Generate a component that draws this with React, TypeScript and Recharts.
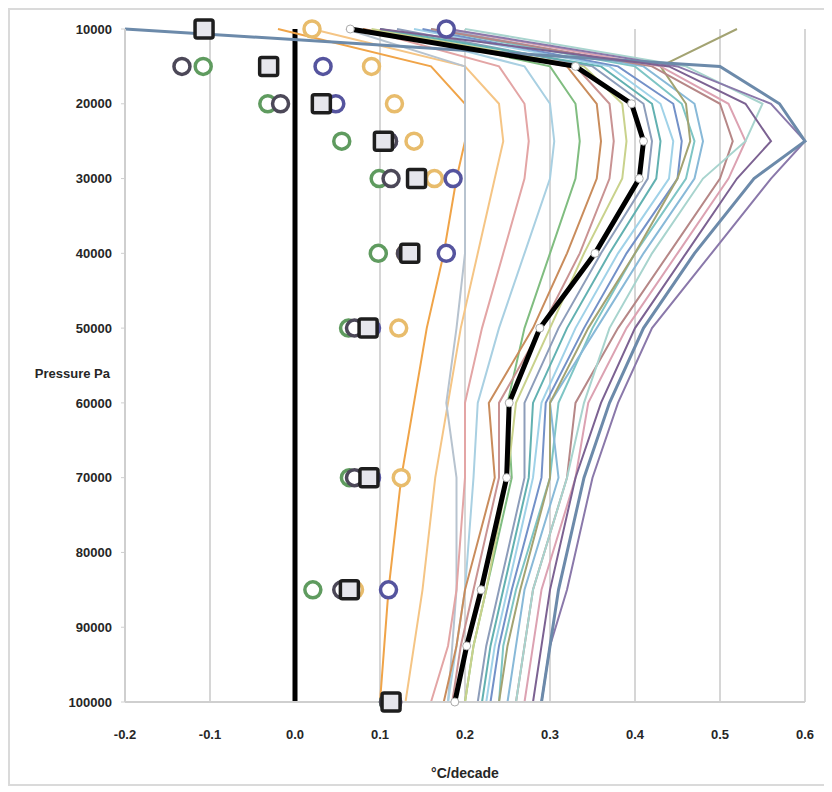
import React from 'react';
import { LineChart, Line, XAxis, YAxis, CartesianGrid, ReferenceLine, Label } from 'recharts';

// pressure levels (Pa), top of the atmosphere first
const levels = [10000, 15000, 20000, 25000, 30000, 40000, 50000, 60000, 70000, 85000, 92500, 100000];

const xTicks = [-0.2, -0.1, 0.0, 0.1, 0.2, 0.3, 0.4, 0.5, 0.6];
const yTicks = [10000, 20000, 30000, 40000, 50000, 60000, 70000, 80000, 90000, 100000];

// model runs, °C/decade at each level
const m01 = [-0.02, 0.16, 0.2, 0.2, 0.19, 0.175, 0.155, 0.14, 0.125, 0.11, 0.105, 0.1];
const m02 = [0.02, 0.2, 0.24, 0.245, 0.235, 0.215, 0.195, 0.18, 0.165, 0.15, 0.14, 0.13];
const m03 = [0.06, 0.2, 0.2, 0.2, 0.2, 0.2, 0.19, 0.178, 0.19, 0.19, 0.185, 0.18];
const m04 = [0.08, 0.24, 0.27, 0.275, 0.27, 0.245, 0.22, 0.2, 0.2, 0.19, 0.18, 0.16];
const m05 = [0.1, 0.27, 0.3, 0.305, 0.3, 0.27, 0.24, 0.215, 0.21, 0.2, 0.19, 0.18];
const m06 = [0.1, 0.3, 0.33, 0.335, 0.33, 0.3, 0.27, 0.25, 0.255, 0.225, 0.21, 0.2];
const m07 = [0.08, 0.32, 0.355, 0.36, 0.355, 0.32, 0.28, 0.228, 0.235, 0.2, 0.19, 0.175];
const m08 = [0.06, 0.33, 0.37, 0.375, 0.37, 0.335, 0.29, 0.24, 0.24, 0.21, 0.195, 0.185];
const m09 = [0.09, 0.34, 0.385, 0.39, 0.385, 0.34, 0.3, 0.26, 0.25, 0.225, 0.21, 0.2];
const m10 = [0.12, 0.35, 0.41, 0.42, 0.415, 0.36, 0.31, 0.27, 0.27, 0.24, 0.225, 0.215];
const m11 = [0.1, 0.36, 0.42, 0.43, 0.425, 0.37, 0.32, 0.28, 0.275, 0.245, 0.23, 0.22];
const m12 = [0.14, 0.37, 0.43, 0.445, 0.44, 0.38, 0.33, 0.29, 0.28, 0.25, 0.235, 0.225];
const m13 = [0.15, 0.38, 0.445, 0.455, 0.45, 0.39, 0.34, 0.295, 0.29, 0.255, 0.24, 0.23];
const m14 = [0.16, 0.4, 0.455, 0.47, 0.46, 0.4, 0.35, 0.31, 0.3, 0.26, 0.245, 0.24];
const m15 = [0.17, 0.41, 0.47, 0.48, 0.47, 0.41, 0.355, 0.3, 0.31, 0.27, 0.26, 0.25];
const m16 = [0.52, 0.43, 0.46, 0.465, 0.45, 0.4, 0.345, 0.3, 0.3, 0.265, 0.25, 0.24];
const m17 = [0.16, 0.42, 0.5, 0.515, 0.5, 0.44, 0.38, 0.33, 0.32, 0.28, 0.27, 0.26];
const m18 = [0.18, 0.43, 0.51, 0.53, 0.51, 0.45, 0.39, 0.345, 0.33, 0.29, 0.28, 0.27];
const m19 = [0.2, 0.46, 0.55, 0.53, 0.48, 0.42, 0.37, 0.34, 0.32, 0.28, 0.27, 0.26];
const m20 = [0.18, 0.45, 0.56, 0.6, 0.56, 0.49, 0.42, 0.38, 0.35, 0.32, 0.3, 0.29];
const m21 = [-0.2, 0.5, 0.57, 0.6, 0.54, 0.47, 0.41, 0.37, 0.34, 0.31, 0.3, 0.29];
const m22 = [0.1, 0.44, 0.53, 0.56, 0.52, 0.46, 0.4, 0.36, 0.33, 0.3, 0.29, 0.28];

// model average
const modelMean = [0.065, 0.33, 0.396, 0.41, 0.405, 0.353, 0.288, 0.252, 0.249, 0.219, 0.202, 0.188];

// balloon datasets and their average (null = not plotted)
const obsDark = [null, -0.133, -0.017, 0.11, 0.113, 0.13, 0.07, null, 0.07, 0.055, null, 0.11];
const obsGreen = [null, -0.108, -0.032, 0.055, 0.099, 0.098, 0.063, null, 0.064, 0.021, null, 0.11];
const obsBlue = [0.178, 0.033, 0.048, 0.11, 0.186, 0.178, 0.09, null, 0.09, 0.11, null, 0.115];
const obsOrange = [0.02, 0.09, 0.117, 0.14, 0.164, 0.13, 0.122, null, 0.125, 0.07, null, 0.115];
const obsMean = [-0.107, -0.031, 0.031, 0.104, 0.143, 0.135, 0.086, null, 0.087, 0.064, null, 0.113];

const models = { m01, m02, m03, m04, m05, m06, m07, m08, m09, m10, m11, m12, m13, m14, m15, m16, m17, m18, m19, m20, m21, m22 };

const modelColors: Record<string, string> = {
  m01: '#f0a448', m02: '#f5c585', m03: '#b7c3cf', m04: '#e3a5a5', m05: '#a9d0e2',
  m06: '#80bd80', m07: '#c98c5c', m08: '#c99393', m09: '#c9d28c', m10: '#8d9dba',
  m11: '#62b1b1', m12: '#a0d2e8', m13: '#7391c8', m14: '#7ec5c5', m15: '#88b9d8',
  m16: '#a3a372', m17: '#b68787', m18: '#dca2b2', m19: '#a8d4ce', m20: '#8a78aa',
  m21: '#6c8aaa', m22: '#7c6292',
};

const rows = levels.map((p, i) => {
  const row: Record<string, number | null> = { p };
  Object.entries(models).forEach(([k, v]) => { row[k] = v[i]; });
  row.modelMean = modelMean[i];
  row.obsDark = obsDark[i];
  row.obsGreen = obsGreen[i];
  row.obsBlue = obsBlue[i];
  row.obsOrange = obsOrange[i];
  row.obsMean = obsMean[i];
  return row;
});

const font = "'Liberation Sans', Arial, sans-serif";
const tickStyle = { fill: '#262626', fontSize: 13, fontWeight: 700, fontFamily: font };

const ring = (color: string) => (props: any) => {
  const { cx, cy, index } = props;
  if (cx == null || cy == null || isNaN(cx)) return <g key={`r${color}${index}`} />;
  return <circle key={`r${color}${index}`} cx={cx} cy={cy} r={8} fill="#fff" stroke={color} strokeWidth={3.5} />;
};

const SquareDot = (props: any) => {
  const { cx, cy, index } = props;
  if (cx == null || cy == null || isNaN(cx)) return <g key={`s${index}`} />;
  return (
    <rect key={`s${index}`} x={cx - 9} y={cy - 9} width={18} height={18} rx={2}
      fill="#e6e6ec" stroke="#1e1e1e" strokeWidth={3.5} />
  );
};

const MeanDot = (props: any) => {
  const { cx, cy, index } = props;
  if (cx == null || cy == null || isNaN(cx)) return <g key={`m${index}`} />;
  return <circle key={`m${index}`} cx={cx} cy={cy} r={4} fill="#fff" stroke="#aaa" strokeWidth={1} />;
};

const PressureLabel = (props: any) => {
  const { viewBox } = props;
  if (!viewBox) return null;
  return (
    <text x={viewBox.x + viewBox.width - 15} y={viewBox.y + viewBox.height / 2 + 12}
      textAnchor="end" fill="#262626" fontSize={13} fontWeight={700} fontFamily={font}>
      Pressure Pa
    </text>
  );
};

export default function App() {
  return (
    <div style={{ width: 816, height: 774, border: '2px solid #dadada', background: '#fff' }}>
      <LineChart width={816} height={774} data={rows} layout="vertical"
        margin={{ top: 19, right: 21, bottom: 0, left: 0 }}>
        <CartesianGrid horizontal={false} stroke="#d6d6d6" strokeWidth={2} />
        <XAxis type="number" domain={[-0.2, 0.6]} ticks={xTicks} height={82}
          tickFormatter={(v: number) => v.toFixed(1)} tick={tickStyle}
          tickSize={0} tickMargin={28} axisLine={{ stroke: '#cfcfcf', strokeWidth: 2 }}>
          <Label value="°C/decade" position="insideBottom" offset={6}
            style={{ fill: '#262626', fontSize: 14, fontWeight: 700, fontFamily: font }} />
        </XAxis>
        <YAxis type="number" dataKey="p" domain={[10000, 100000]} ticks={yTicks} width={115}
          tick={tickStyle} tickSize={4} tickMargin={9}
          tickLine={{ stroke: '#cfcfcf' }} axisLine={{ stroke: '#cfcfcf', strokeWidth: 2 }}>
          <Label content={<PressureLabel />} />
        </YAxis>
        <ReferenceLine x={0} stroke="#000" strokeWidth={5} />
        {Object.keys(models).map((k) => (
          <Line key={k} dataKey={k} stroke={modelColors[k]} strokeWidth={k === 'm21' ? 3 : 2}
            dot={false} isAnimationActive={false} />
        ))}
        <Line dataKey="modelMean" stroke="#000" strokeWidth={5} dot={MeanDot} isAnimationActive={false} />
        <Line dataKey="obsOrange" stroke="none" dot={ring('#e8bc6c')} isAnimationActive={false} />
        <Line dataKey="obsBlue" stroke="none" dot={ring('#55549e')} isAnimationActive={false} />
        <Line dataKey="obsGreen" stroke="none" dot={ring('#5f9b5f')} isAnimationActive={false} />
        <Line dataKey="obsDark" stroke="none" dot={ring('#4c4858')} isAnimationActive={false} />
        <Line dataKey="obsMean" stroke="none" dot={SquareDot} isAnimationActive={false} />
      </LineChart>
    </div>
  );
}
